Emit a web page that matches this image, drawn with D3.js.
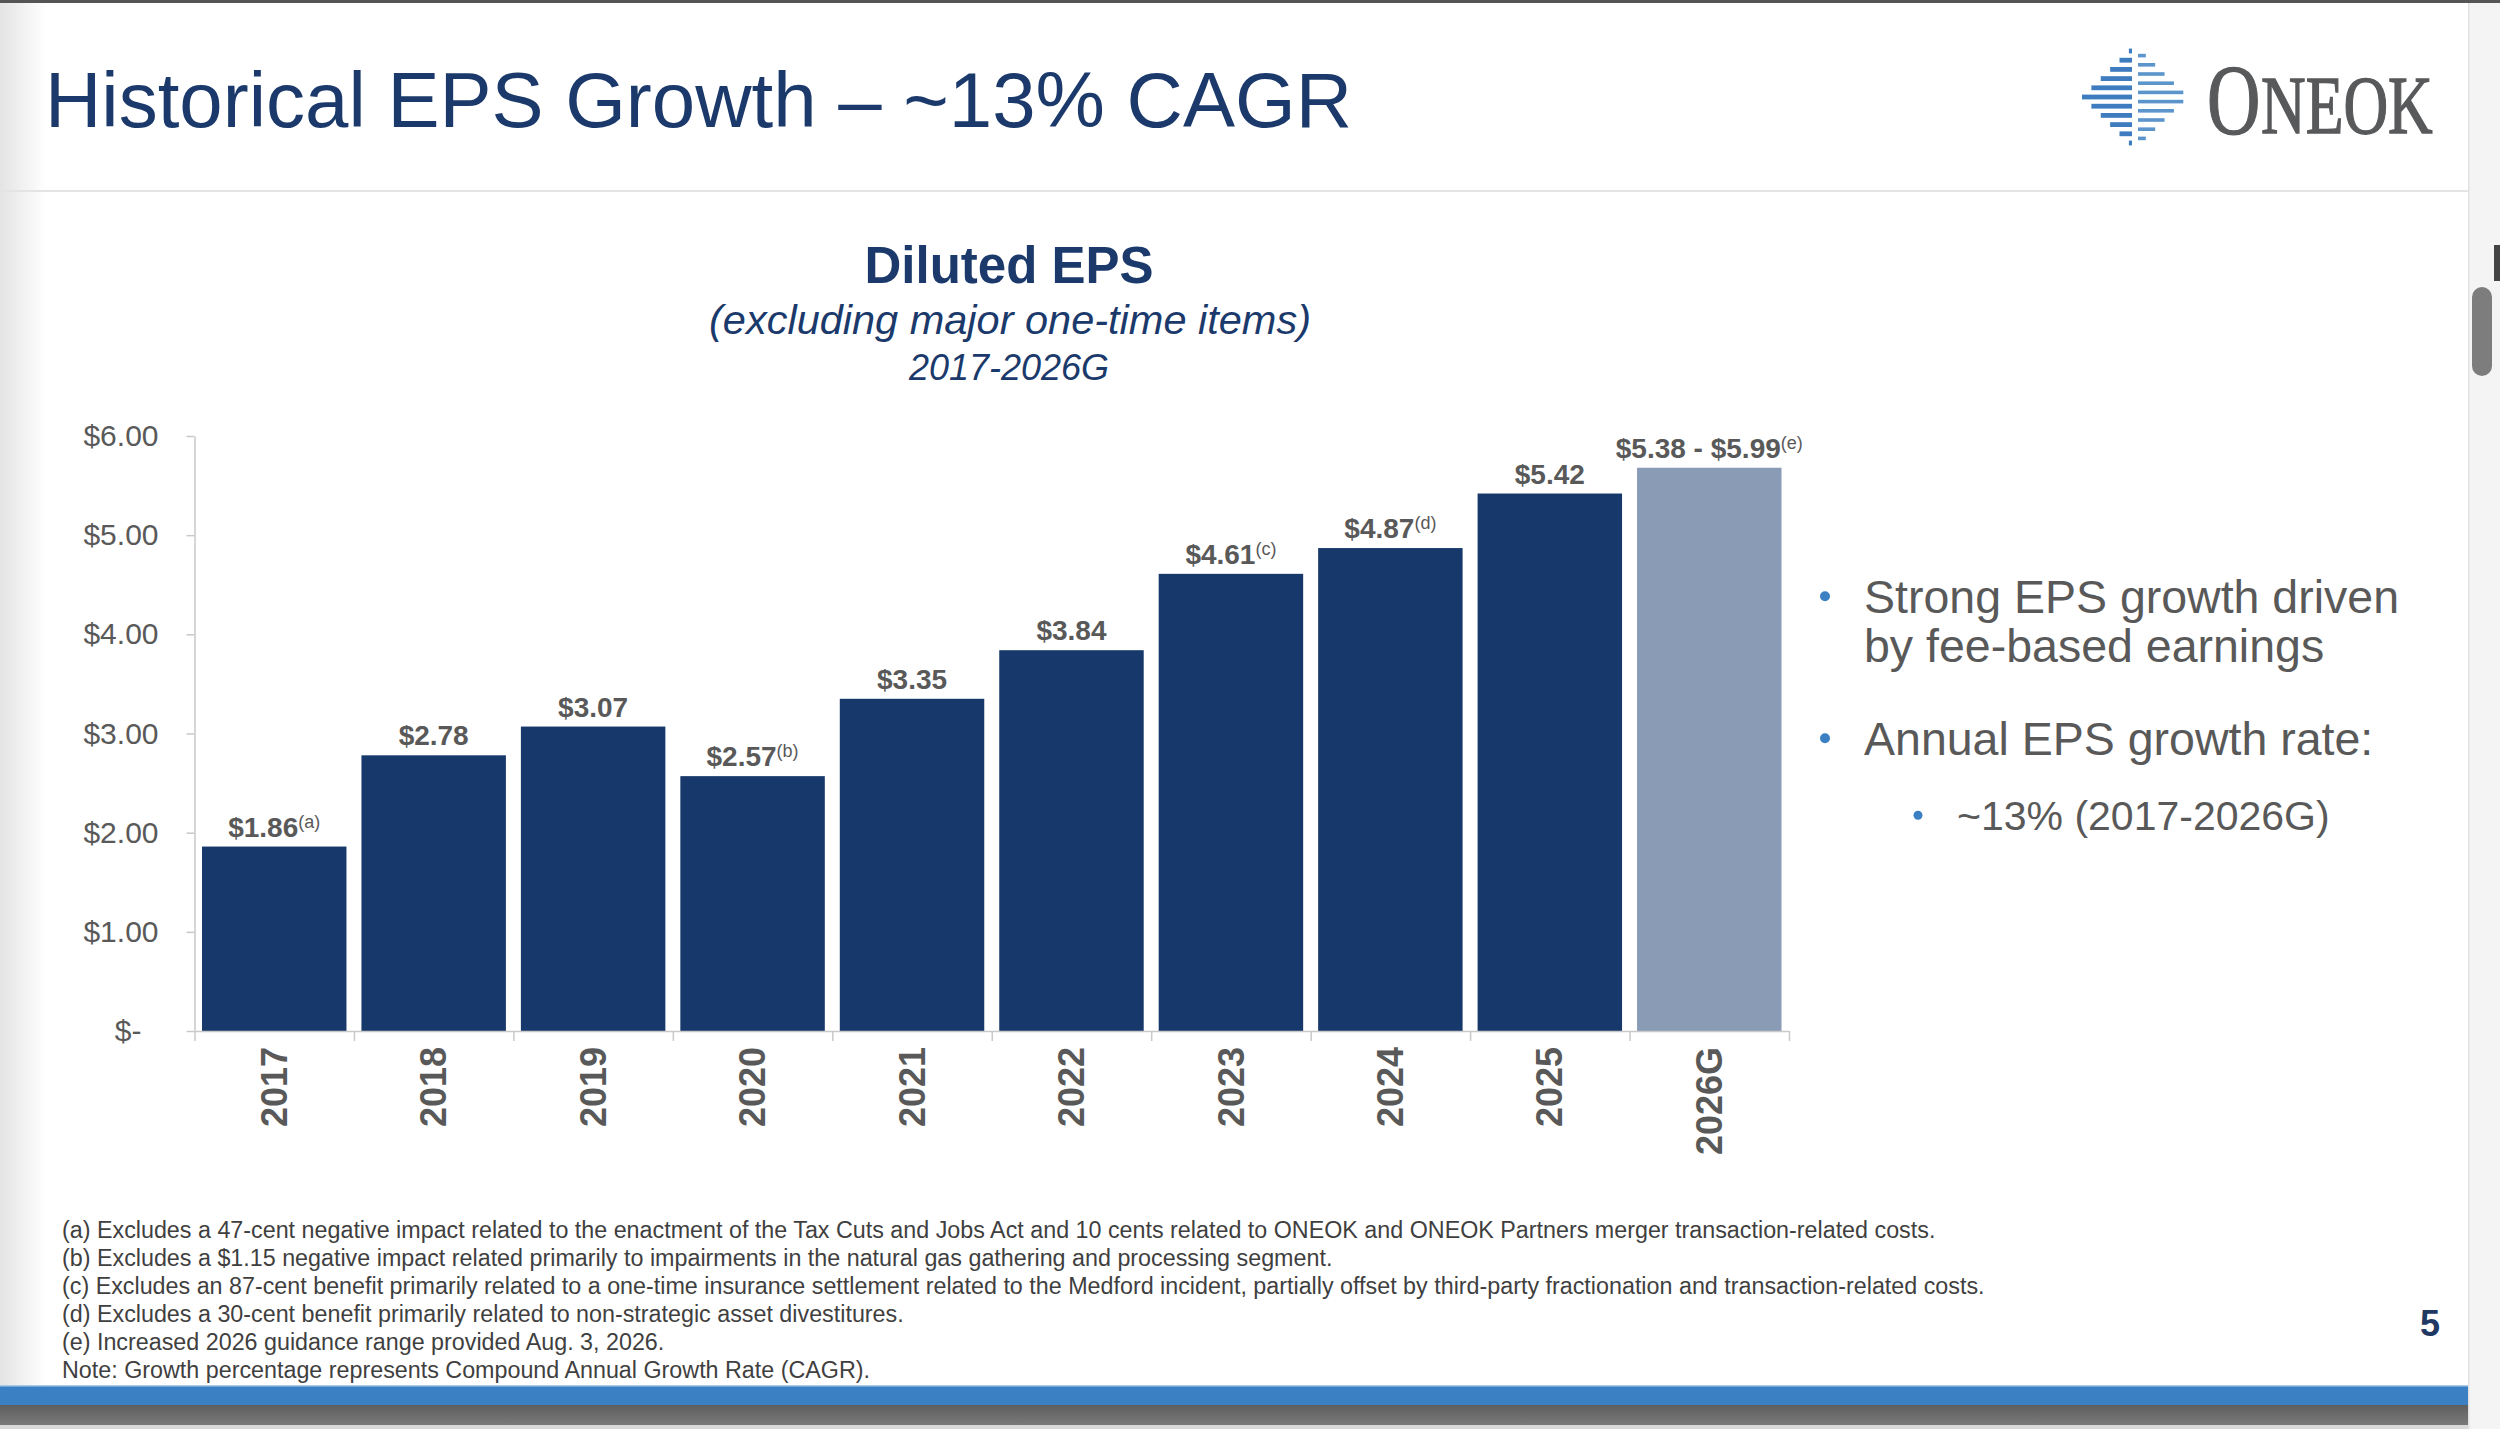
<!DOCTYPE html>
<html>
<head>
<meta charset="utf-8">
<script src="https://cdn.jsdelivr.net/npm/d3@7"></script>
<style>
    html, body { margin: 0; padding: 0; background: #fff; }
    svg { display: block; }
    text { font-family: 'Liberation Sans', Arial, sans-serif; }
</style>
</head>
<body>
<svg id="chart" width="2500" height="1429"></svg>
<script>
const years = ['2017', '2018', '2019', '2020', '2021', '2022', '2023', '2024', '2025', '2026G'];
const eps = [1.86, 2.78, 3.07, 2.57, 3.35, 3.84, 4.61, 4.87, 5.42, 5.68];
const valueLabels = ['$1.86', '$2.78', '$3.07', '$2.57', '$3.35', '$3.84', '$4.61', '$4.87', '$5.42', '$5.38 - $5.99'];
const noteMarks = ['(a)', '', '', '(b)', '', '', '(c)', '(d)', '', '(e)'];
const guidance = [false, false, false, false, false, false, false, false, false, true];
const yTicks = [0, 1, 2, 3, 4, 5, 6];

const bullets = [
    { level: 0, lines: ['Strong EPS growth driven', 'by fee-based earnings'] },
    { level: 0, lines: ['Annual EPS growth rate:'] },
    { level: 1, lines: ['~13% (2017-2026G)'] },
];

const footnotes = [
    '(a) Excludes a 47-cent negative impact related to the enactment of the Tax Cuts and Jobs Act and 10 cents related to ONEOK and ONEOK Partners merger transaction-related costs.',
    '(b) Excludes a $1.15 negative impact related primarily to impairments in the natural gas gathering and processing segment.',
    '(c) Excludes an 87-cent benefit primarily related to a one-time insurance settlement related to the Medford incident, partially offset by third-party fractionation and transaction-related costs.',
    '(d) Excludes a 30-cent benefit primarily related to non-strategic asset divestitures.',
    '(e) Increased 2026 guidance range provided Aug. 3, 2026.',
    'Note: Growth percentage represents Compound Annual Growth Rate (CAGR).',
];

const NAVY = '#17386a';
const GUIDE = '#8a9bb5';
const GREY_TEXT = '#595959';
const AXIS = '#c9c9c9';
const BLUE = '#3b80c2';

const svg = d3.select('#chart');
const defs = svg.append('defs');

const leftShade = defs.append('linearGradient').attr('id', 'leftShade');
leftShade.append('stop').attr('offset', '0%').attr('stop-color', '#e4e4e4');
leftShade.append('stop').attr('offset', '100%').attr('stop-color', '#ffffff');

const bottomShade = defs.append('linearGradient').attr('id', 'bottomShade')
    .attr('x1', 0).attr('x2', 0).attr('y1', 0).attr('y2', 1);
bottomShade.append('stop').attr('offset', '0%').attr('stop-color', '#5e5e5e');
bottomShade.append('stop').attr('offset', '100%').attr('stop-color', '#7a7a7a');

// page frame
svg.append('rect').attr('width', 2500).attr('height', 1429).attr('fill', '#fff');
svg.append('rect').attr('x', 0).attr('y', 0).attr('width', 46).attr('height', 1385).attr('fill', 'url(#leftShade)');
svg.append('rect').attr('x', 0).attr('y', 0).attr('width', 2500).attr('height', 3).attr('fill', '#555');
svg.append('rect').attr('x', 0).attr('y', 190).attr('width', 2468).attr('height', 2).attr('fill', '#e4e4e4');

// header
svg.append('text')
    .attr('x', 45).attr('y', 127)
    .attr('font-size', 78)
    .attr('fill', '#1b3a6b')
    .text('Historical EPS Growth \u2013 ~13% CAGR');

// logo
const logo = svg.append('g').attr('class', 'logo');
const lcx = 2135, lcy = 97, lhw = 53, lhh = 52;
d3.range(-5, 6).forEach(i => {
    const yl = lcy + i * 9.2;
    const wl = lhw * (1 - Math.abs(yl - lcy) / lhh);
    logo.append('rect')
        .attr('x', lcx - wl).attr('y', yl - 2.4)
        .attr('width', Math.max(wl - 3, 0)).attr('height', 4.8)
        .attr('fill', '#3d7cbf');
    const yr = yl + 4.6;
    const wr = lhw * (1 - Math.abs(yr - lcy) / lhh);
    logo.append('rect')
        .attr('x', lcx + 3).attr('y', yr - 1.8)
        .attr('width', Math.max(wr - 3, 0)).attr('height', 3.6)
        .attr('fill', '#5b95cb');
});
const serif = "'Liberation Serif', 'Times New Roman', serif";
logo.append('g')
    .attr('transform', 'translate(2207,133) scale(0.74,1)')
    .append('text')
    .attr('font-size', 100)
    .attr('fill', '#58595b').attr('stroke', '#58595b').attr('stroke-width', 1.4)
    .style('font-family', serif)
    .text('O');
logo.append('g')
    .attr('transform', 'translate(2261,133) scale(0.745,1)')
    .append('text')
    .attr('font-size', 83)
    .attr('fill', '#58595b').attr('stroke', '#58595b').attr('stroke-width', 1.4)
    .style('font-family', serif)
    .text('NEOK');

// chart titles
const titles = svg.append('g').attr('text-anchor', 'middle').attr('fill', '#1b3a6b');
titles.append('text').attr('x', 1009).attr('y', 283).attr('font-size', 51).attr('font-weight', 'bold').text('Diluted EPS');
titles.append('text').attr('x', 1010).attr('y', 334).attr('font-size', 41.5).attr('font-style', 'italic').text('(excluding major one-time items)');
titles.append('text').attr('x', 1009).attr('y', 380).attr('font-size', 36).attr('font-style', 'italic').text('2017-2026G');

// scales
const x = d3.scaleBand()
    .domain(years)
    .range([194.5, 1789])
    .paddingInner(0.094)
    .paddingOuter(0.047);

const y = d3.scaleLinear()
    .domain([0, 6])
    .range([1031, 436]);

const boundary = d3.scaleLinear()
    .domain([0, years.length])
    .range(x.range());

const graph = svg.append('g').attr('class', 'graph-container');

// bars
graph.append('g').attr('class', 'graph-bars')
    .selectAll('rect')
    .data(years)
    .enter().append('rect')
    .attr('x', d => x(d))
    .attr('y', (d, i) => y(eps[i]))
    .attr('width', x.bandwidth())
    .attr('height', (d, i) => y(0) - y(eps[i]))
    .attr('fill', (d, i) => guidance[i] ? GUIDE : NAVY);

// y axis
const yAxis = graph.append('g')
    .attr('class', 'yAxis')
    .attr('transform', `translate(${x.range()[0]},0)`)
    .call(d3.axisLeft(y)
        .tickValues(yTicks)
        .tickSizeInner(8)
        .tickSizeOuter(0)
        .tickPadding(28)
        .tickFormat(d => d === 0 ? '$-' : d3.format('$.2f')(d)));
yAxis.select('.domain').attr('stroke', AXIS).attr('stroke-width', 1.5);
yAxis.selectAll('.tick line').attr('stroke', AXIS).attr('stroke-width', 1.5);
yAxis.selectAll('.tick text')
    .attr('font-size', 30)
    .attr('fill', GREY_TEXT)
    .style('font-family', "'Liberation Sans', Arial, sans-serif")
    .attr('dx', d => d === 0 ? -17 : 0);

// x axis (tick marks between categories)
const xAxis = graph.append('g')
    .attr('class', 'xAxis')
    .attr('transform', `translate(0,${y(0)})`)
    .call(d3.axisBottom(boundary)
        .tickValues(d3.range(years.length + 1))
        .tickSizeInner(10)
        .tickSizeOuter(0)
        .tickFormat(''));
xAxis.select('.domain').attr('stroke', AXIS).attr('stroke-width', 1.5);
xAxis.selectAll('.tick line').attr('stroke', AXIS).attr('stroke-width', 1.5);

// x labels
graph.append('g').attr('class', 'x-labels')
    .selectAll('text')
    .data(years)
    .enter().append('text')
    .attr('transform', d => `translate(${x(d) + x.bandwidth() / 2},${y(0) + 16}) rotate(-90)`)
    .attr('text-anchor', 'end')
    .attr('dy', '0.35em')
    .attr('font-size', 36)
    .attr('font-weight', 'bold')
    .attr('fill', GREY_TEXT)
    .text(d => d);

// value labels
const labels = graph.append('g').attr('class', 'value-labels')
    .selectAll('text')
    .data(years)
    .enter().append('text')
    .attr('x', d => x(d) + x.bandwidth() / 2)
    .attr('y', (d, i) => y(eps[i]) - 10)
    .attr('text-anchor', 'middle')
    .attr('fill', GREY_TEXT);
labels.append('tspan')
    .attr('font-size', 28)
    .attr('font-weight', 'bold')
    .text((d, i) => valueLabels[i]);
labels.filter((d, i) => noteMarks[i])
    .append('tspan')
    .attr('font-size', 18)
    .attr('dy', -9)
    .text(d => noteMarks[years.indexOf(d)]);

// bullets
const side = svg.append('g').attr('class', 'bullets');
const bulletTop = [613, 755, 830];
bullets.forEach((b, i) => {
    const tx = b.level === 0 ? 1864 : 1957;
    const bx = b.level === 0 ? 1825 : 1918;
    const fs = b.level === 0 ? 46.5 : 41;
    side.append('circle')
        .attr('cx', bx).attr('cy', bulletTop[i] - fs * 0.36)
        .attr('r', b.level === 0 ? 5 : 4.5)
        .attr('fill', BLUE);
    const t = side.append('text')
        .attr('x', tx).attr('y', bulletTop[i])
        .attr('font-size', fs)
        .attr('fill', GREY_TEXT);
    b.lines.forEach((line, j) => {
        t.append('tspan').attr('x', tx).attr('dy', j === 0 ? 0 : 49).text(line);
    });
});

// footnotes
svg.append('g').attr('class', 'footnotes')
    .selectAll('text')
    .data(footnotes)
    .enter().append('text')
    .attr('x', 62)
    .attr('y', (d, i) => 1238 + i * 28)
    .attr('font-size', 23.3)
    .attr('fill', '#3f3f3f')
    .text(d => d);

// page number
svg.append('text')
    .attr('x', 2440).attr('y', 1336)
    .attr('text-anchor', 'end')
    .attr('font-size', 36)
    .attr('font-weight', 'bold')
    .attr('fill', '#1f3864')
    .text('5');

// bottom bands
svg.append('rect').attr('x', 0).attr('y', 1385).attr('width', 2500).attr('height', 20).attr('fill', BLUE);
svg.append('rect').attr('x', 0).attr('y', 1385).attr('width', 2500).attr('height', 1.5).attr('fill', '#a9cbe8');
svg.append('rect').attr('x', 0).attr('y', 1405).attr('width', 2500).attr('height', 20).attr('fill', 'url(#bottomShade)');
svg.append('rect').attr('x', 0).attr('y', 1425).attr('width', 2500).attr('height', 4).attr('fill', '#d9d9d9');

// scrollbar strip
svg.append('rect').attr('x', 2468).attr('y', 3).attr('width', 32).attr('height', 1426).attr('fill', '#f4f4f4');
svg.append('rect').attr('x', 2468).attr('y', 3).attr('width', 1.5).attr('height', 1426).attr('fill', '#e2e2e2');
svg.append('rect').attr('x', 2472).attr('y', 287).attr('width', 20).attr('height', 89).attr('rx', 10).attr('fill', '#7d7d7d');
svg.append('rect').attr('x', 2494).attr('y', 245).attr('width', 6).attr('height', 36).attr('fill', '#444');
</script>
</body>
</html>
